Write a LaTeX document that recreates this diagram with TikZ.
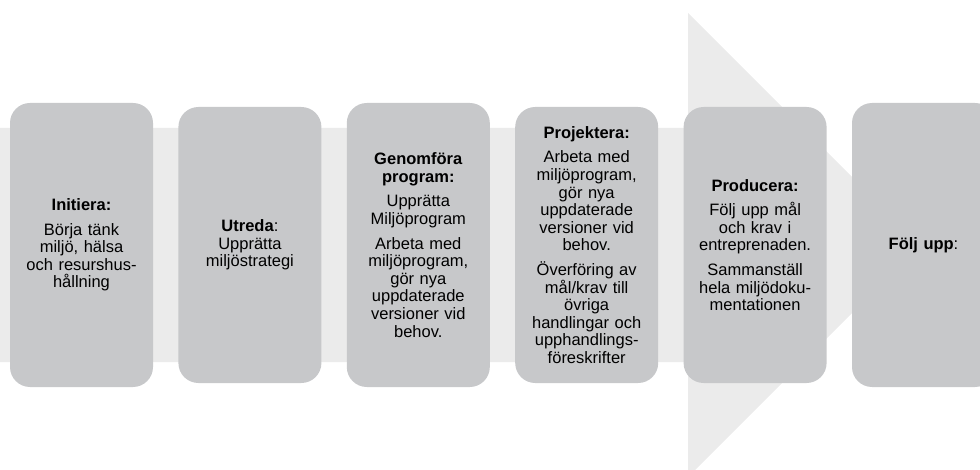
\documentclass[tikz,border=0pt]{standalone}
\usepackage{fontspec}
\setmainfont{Liberation Sans}
\usepackage{xcolor}
\usepackage{tikz}
\usetikzlibrary{positioning}
\definecolor{bandgray}{HTML}{EBEBEB}
\definecolor{boxgray}{HTML}{C7C8CA}

\begin{document}
\begin{tikzpicture}[x=1pt,y=-1pt,node distance=25pt,box/.style={fill=boxgray,rounded corners=20pt,align=center,minimum width=143pt,text width=136pt,font=\fontsize{16.5}{17.6}\selectfont},tall/.style={box,minimum height=284pt},short/.style={box,minimum height=276pt}]
\useasboundingbox (0,0) rectangle (980,470);
\fill[bandgray] (0,128) -- (688,128) -- (688,13) -- (920,245) -- (688,477) -- (688,362) -- (0,362) -- cycle;
\node[tall] (init) at (81.5,245) {\textbf{Initiera:}\\[7pt]Börja tänk\\miljö, hälsa\\och resurshus-\\hållning};
\node[short,right=of init] (utr) {\textbf{Utreda}:\\Upprätta\\miljöstrategi};
\node[tall,right=of utr] (gen) {\textbf{Genomföra}\\\textbf{program:}\\[7pt]Upprätta\\Miljöprogram\\[7pt]Arbeta med\\miljöprogram,\\gör nya\\uppdaterade\\versioner vid\\behov.};
\node[short,right=of gen] (proj) {\textbf{Projektera:}\\[7pt]Arbeta med\\miljöprogram,\\gör nya\\uppdaterade\\versioner vid\\behov.\\[7pt]Överföring av\\mål/krav till\\övriga\\handlingar och\\upphandlings-\\föreskrifter};
\node[short,right=of proj] (prod) {\textbf{Producera:}\\[7pt]Följ upp mål\\och krav i\\entreprenaden.\\[7pt]Sammanställ\\hela miljödoku-\\mentationen};
\node[tall,right=of prod] (folj) {\textbf{Följ upp}:};
\end{tikzpicture}
\end{document}
